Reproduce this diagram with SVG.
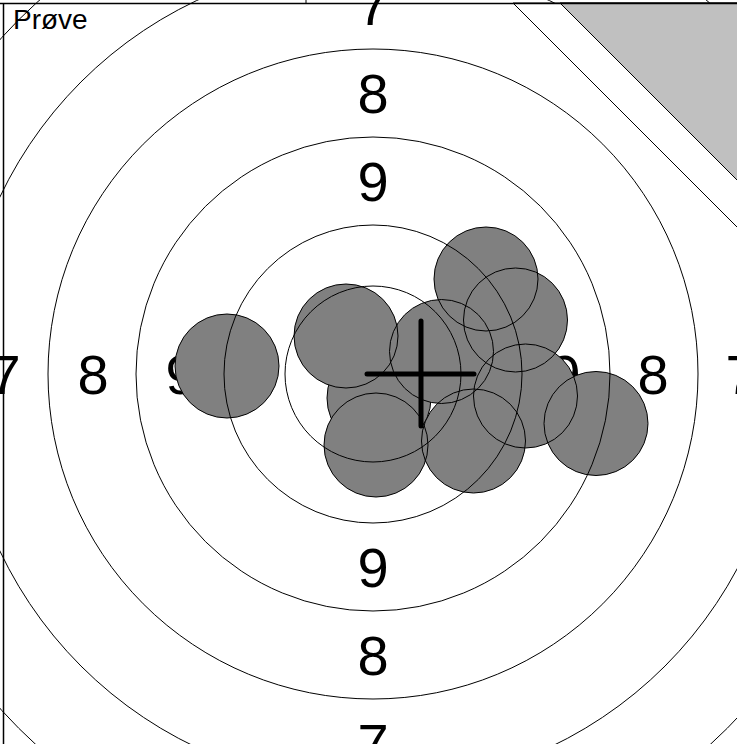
<svg xmlns="http://www.w3.org/2000/svg" width="737" height="744" viewBox="0 0 737 744">
<style>
.lbl{font-family:"Liberation Sans",Arial,sans-serif;font-size:56px;fill:#000;text-anchor:middle}
.ring{fill:none;stroke:#000;stroke-width:1}
.shot{fill:#808080;stroke:#000;stroke-width:1}
.shotf{fill:#808080;stroke:none}
.shots{fill:none;stroke:#000;stroke-width:1}
.cross{stroke:#000;stroke-width:5;stroke-linecap:round}
</style>
<rect x="0" y="0" width="737" height="744" fill="#fff"/>
<g id="labels">
<text class="lbl" x="373" y="201">9</text>
<text class="lbl" x="373" y="113">8</text>
<text class="lbl" x="373" y="25">7</text>
<text class="lbl" x="373" y="587">9</text>
<text class="lbl" x="373" y="675">8</text>
<text class="lbl" x="373" y="763">7</text>
<text class="lbl" x="181" y="394">9</text>
<text class="lbl" x="93" y="394">8</text>
<text class="lbl" x="5" y="394">7</text>
<text class="lbl" x="565" y="394">9</text>
<text class="lbl" x="653" y="394">8</text>
<text class="lbl" x="741" y="394">7</text>
</g>
<g id="shots">
<circle class="shot" cx="379" cy="398" r="52"/>
<g class="shotf">
<circle cx="227" cy="366" r="52"/>
<circle cx="346" cy="336" r="52"/>
<circle cx="376" cy="445" r="52"/>
<circle cx="441.5" cy="351.5" r="52"/>
<circle cx="486" cy="279" r="52"/>
<circle cx="515.5" cy="320" r="52"/>
<circle cx="525.5" cy="396" r="52"/>
<circle cx="473.5" cy="441" r="52"/>
<circle cx="596" cy="423.5" r="52"/>
</g>
<g class="shots">
<circle cx="227" cy="366" r="52"/>
<circle cx="346" cy="336" r="52"/>
<circle cx="376" cy="445" r="52"/>
<circle cx="441.5" cy="351.5" r="52"/>
<circle cx="486" cy="279" r="52"/>
<circle cx="515.5" cy="320" r="52"/>
<circle cx="525.5" cy="396" r="52"/>
<circle cx="473.5" cy="441" r="52"/>
<circle cx="596" cy="423.5" r="52"/>
</g>
</g>
<g id="rings">
<circle class="ring" cx="373" cy="374" r="88"/>
<circle class="ring" cx="373" cy="374" r="149"/>
<circle class="ring" cx="373" cy="374" r="237"/>
<circle class="ring" cx="373" cy="374" r="325"/>
<circle class="ring" cx="373" cy="374" r="413"/>
<circle class="ring" cx="373" cy="374" r="501"/>
</g>
<g id="corner">
<polygon points="513,3 740,3 740,230" fill="#fff" stroke="#000" stroke-width="1"/>
<polygon points="560,3 740,3 740,183" fill="#c0c0c0" stroke="#000" stroke-width="1"/>
</g>
<g id="crosshair">
<line class="cross" x1="367" y1="374" x2="474" y2="374"/>
<line class="cross" x1="421" y1="321" x2="421" y2="426"/>
</g>
<g id="frame">
<line x1="0" y1="3.5" x2="737" y2="3.5" stroke="#000" stroke-width="1.5"/>
<line x1="3.5" y1="3" x2="3.5" y2="744" stroke="#000" stroke-width="1.5"/>
<line x1="306" y1="0" x2="306" y2="3" stroke="#000" stroke-width="1"/>
<text x="13" y="29" font-family="Liberation Sans, Arial, sans-serif" font-size="28">Prøve</text>
</g>
</svg>
